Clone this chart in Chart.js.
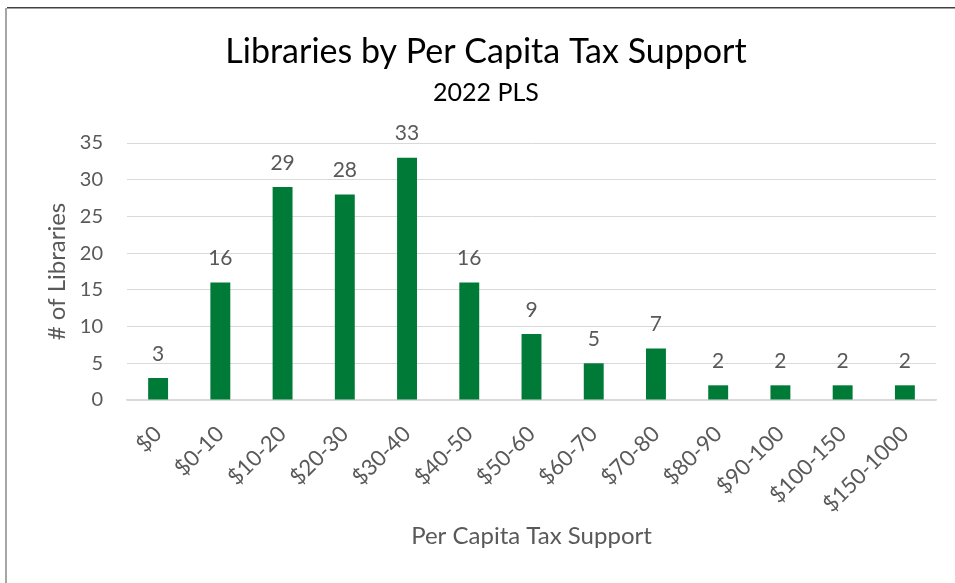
<!DOCTYPE html>
<html>
<head>
<meta charset="utf-8">
<script src="https://cdn.jsdelivr.net/npm/chart.js@4"></script>
<style>
  html, body { margin: 0; padding: 0; background: #fff; }
  #wrap { position: relative; width: 955px; height: 583px; }
  canvas { display: block; }
</style>
</head>
<body>
<div id="wrap"><canvas id="c" width="955" height="583"></canvas></div>
<script>
// Per capita tax support brackets and library counts (2022 PLS)
const categories = ['$0', '$0-10', '$10-20', '$20-30', '$30-40', '$40-50', '$50-60',
                    '$60-70', '$70-80', '$80-90', '$90-100', '$100-150', '$150-1000'];
const libraryCounts = [3, 16, 29, 28, 33, 16, 9, 5, 7, 2, 2, 2, 2];
const yTicks = [0, 5, 10, 15, 20, 25, 30, 35];

const FONT = 'Lato, "Open Sans", sans-serif';
const GREY = '#595959';

// Writes each bar's value above it
const valueLabels = {
  id: 'valueLabels',
  afterDatasetsDraw(chart) {
    const ctx = chart.ctx;
    const meta = chart.getDatasetMeta(0);
    const data = chart.data.datasets[0].data;
    ctx.save();
    ctx.font = '21px ' + FONT;
    ctx.fillStyle = GREY;
    ctx.textAlign = 'center';
    ctx.textBaseline = 'middle';
    meta.data.forEach((bar, i) => {
      ctx.fillText(String(data[i]), bar.x, bar.y - 24);
    });
    ctx.restore();
  }
};

// Chart frame
const frame = {
  id: 'frame',
  afterDraw(chart) {
    const ctx = chart.ctx;
    ctx.save();
    ctx.fillStyle = '#a6a6a6';
    ctx.fillRect(5, 8, 2, 600);
    ctx.fillStyle = '#404040';
    ctx.fillRect(7, 7, 960, 1.5);
    ctx.restore();
  }
};

new Chart(document.getElementById('c'), {
  type: 'bar',
  data: {
    labels: categories,
    datasets: [{
      data: libraryCounts,
      backgroundColor: '#007A37',
      barPercentage: 0.32,
      categoryPercentage: 1.0
    }]
  },
  options: {
    responsive: false,
    animation: false,
    layout: { padding: { left: 36, right: 19, top: 0, bottom: 0 } },
    plugins: {
      legend: { display: false },
      tooltip: { enabled: false },
      title: {
        display: true,
        text: 'Libraries by Per Capita Tax Support',
        color: '#000',
        font: { family: FONT, size: 34, weight: 'normal' },
        padding: { top: 31.6, bottom: 4 }
      },
      subtitle: {
        display: true,
        text: '2022 PLS',
        color: '#000',
        font: { family: FONT, size: 25, weight: 'normal' },
        padding: { top: 1.6, bottom: 35 }
      }
    },
    scales: {
      x: {
        grid: { display: false, drawTicks: false },
        border: { display: true, color: '#d9d9d9', width: 1.5 },
        ticks: {
          color: GREY,
          font: { family: FONT, size: 22 },
          minRotation: 45,
          maxRotation: 45,
          padding: 21
        },
        title: {
          display: true,
          text: 'Per Capita Tax Support',
          color: GREY,
          font: { family: FONT, size: 24 },
          padding: { top: 0, bottom: 32.6 }
        },
        afterFit(scale) { scale.height = 183; }
      },
      y: {
        min: 0,
        max: 35,
        afterBuildTicks(scale) { scale.ticks = yTicks.map(v => ({ value: v })); },
        grid: { color: '#d9d9d9', lineWidth: 1, drawTicks: false },
        border: { display: false },
        ticks: {
          color: GREY,
          font: { family: FONT, size: 20 },
          padding: 24
        },
        title: {
          display: true,
          text: '# of Libraries',
          color: GREY,
          font: { family: FONT, size: 24 },
          padding: { top: 6.6, bottom: 0 }
        },
        afterFit(scale) { scale.width = 91; }
      }
    }
  },
  plugins: [valueLabels, frame]
});
</script>
</body>
</html>
